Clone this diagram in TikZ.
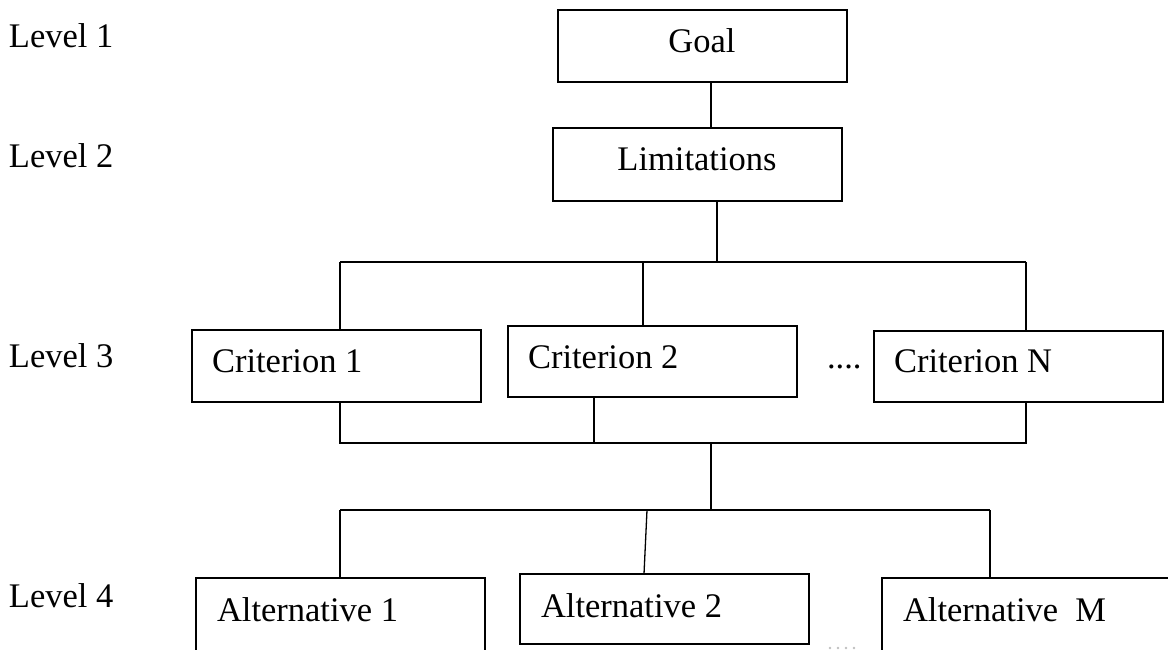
\documentclass[tikz,border=0pt]{standalone}
\usepackage{fontspec}
\setmainfont{Liberation Serif}
\begin{document}
\begin{tikzpicture}[x=1pt,y=-1pt,
  box/.style={draw=black,line width=1.6pt,minimum width=289pt,inner sep=0pt,outer sep=0pt},
  txt/.style={inner sep=0pt,outer sep=0pt,font=\fontsize{34.5}{40}\selectfont},
  conn/.style={line width=1.3pt},
  faintdot/.style={fill=black!25,draw=none}]
\useasboundingbox (0,0) rectangle (1168,649);
\clip (0,0) rectangle (1168,649);
% level labels
\node[txt,anchor=base west] (l1) at (9,47) {Level 1};
\node[txt,anchor=base west] (l2) at (9,167) {Level 2};
\node[txt,anchor=base west] (l3) at (9,367) {Level 3};
\node[txt,anchor=base west] (l4) at (9,607) {Level 4};
% boxes
\node[box,minimum height=72pt] (goal) at (702.5,46) {};
\node[txt,anchor=base] (tgoal) at (702,52) {Goal};
\node[box,minimum height=73pt] (lim) at (697.5,164.5) {};
\node[txt,anchor=base] (tlim) at (697,170) {Limitations};
\node[box,minimum height=72pt] (c1) at (336.5,366) {};
\node[txt,anchor=base west] (tc1) at (212,372) {Criterion 1};
\node[box,minimum height=71pt] (c2) at (652.5,361.5) {};
\node[txt,anchor=base west] (tc2) at (528,368) {Criterion 2};
\node[box,minimum height=71pt] (cn) at (1018.5,366.5) {};
\node[txt,anchor=base west] (tcn) at (894,372) {Criterion N};
\node[txt,anchor=base west] (dots) at (827,368) {....};
\node[box,minimum height=140pt] (a1) at (340.5,648) {};
\node[txt,anchor=base west] (ta1) at (217,621) {Alternative 1};
\node[box,minimum height=70pt] (a2) at (664.5,609) {};
\node[txt,anchor=base west] (ta2) at (541,617) {Alternative 2};
\node[box,minimum height=140pt] (am) at (1026.5,648) {};
\node[txt,anchor=base west] (tam) at (903,621) {Alternative\ \ M};
% faint cut-off dots at the bottom edge
\foreach \dx in {830,838,846,854} { \fill[faintdot] (\dx,648) circle (1.3pt); }
% junction coordinates
\coordinate (g1) at (711,82);
\coordinate (j1) at (717,262);
\coordinate (b1l) at (340,262);
\coordinate (b1m) at (643,262);
\coordinate (b1r) at (1026,262);
\coordinate (b2l) at (340,443);
\coordinate (b2m) at (594,443);
\coordinate (b2r) at (1026,443);
\coordinate (j2) at (711,443);
\coordinate (j3) at (711,510);
\coordinate (b3l) at (340,510);
\coordinate (b3m) at (647,510);
\coordinate (b3r) at (990,510);
\coordinate (a2t) at (644,574);
% connectors
\draw[conn] (goal.south -| g1) -- (lim.north -| g1);
\draw[conn] (lim.south -| j1) -- (j1);
\draw[conn] (b1l) -- (b1r);
\draw[conn] (b1l) -- (c1.north -| b1l);
\draw[conn] (b1m) -- (c2.north -| b1m);
\draw[conn] (b1r) -- (cn.north -| b1r);
\draw[conn] (c1.south -| b2l) -- (b2l) -- (b2r) -- (cn.south -| b2r);
\draw[conn] (c2.south -| b2m) -- (b2m);
\draw[conn] (j2) -- (j3);
\draw[conn] (b3l) -- (b3r);
\draw[conn] (b3l) -- (a1.north -| b3l);
\draw[conn] (b3m) -- (a2t);
\draw[conn] (b3r) -- (am.north -| b3r);
\end{tikzpicture}
\end{document}
